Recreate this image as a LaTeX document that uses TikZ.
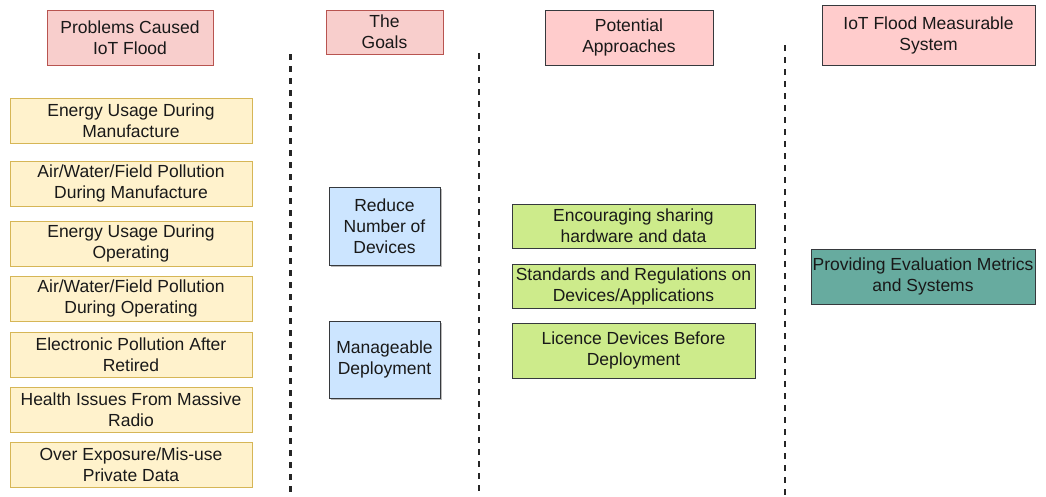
\documentclass[tikz,border=0pt]{standalone}
\usepackage{fontspec}
\setmainfont{Liberation Sans}
\usetikzlibrary{shadows}
\definecolor{pinkA}{HTML}{F8CECC}
\definecolor{pinkAd}{HTML}{B85450}
\definecolor{pinkB}{HTML}{FFCCCC}
\definecolor{darkB}{HTML}{36393D}
\definecolor{yel}{HTML}{FFF2CC}
\definecolor{yeld}{HTML}{D6B656}
\definecolor{blu}{HTML}{CCE5FF}
\definecolor{grn}{HTML}{CDEB8B}
\definecolor{teal2}{HTML}{67AB9F}
\tikzset{
  box/.style={rectangle, draw, line width=1pt, align=center, inner sep=0pt,
    font=\fontsize{17.5}{21}\selectfont, text=black!90},
  hdrA/.style={box, fill=pinkA, draw=pinkAd},
  hdrB/.style={box, fill=pinkB, draw=darkB},
  prob/.style={box, fill=yel, draw=yeld, minimum width=242pt, minimum height=45pt},
  goal/.style={box, fill=blu, draw=darkB, minimum width=111pt,
    drop shadow={shadow xshift=2pt, shadow yshift=-2pt, fill=black!45, opacity=0.6}},
  appr/.style={box, fill=grn, draw=darkB, minimum width=243pt},
  meas/.style={box, fill=teal2, draw=darkB},
  sep/.style={line width=2.6pt, dash pattern=on 5.5pt off 6.5pt, black!85},
}
\begin{document}
\begin{tikzpicture}[x=1pt, y=-1pt]
\useasboundingbox (0,0) rectangle (1046,496);
% headers
\node[hdrA, minimum width=166pt, minimum height=55pt] (h1) at (130,37.5) {Problems Caused\\IoT Flood};
\node[hdrA, minimum width=117pt, minimum height=44pt] (h2) at (384.5,32) {The\\Goals};
\node[hdrB, minimum width=168pt, minimum height=55pt] (h3) at (629,37.5) {Potential\\Approaches};
\node[hdrB, minimum width=213pt, minimum height=60pt] (h4) at (928.5,35) {IoT Flood Measurable\\System};
% separators
\coordinate (s1a) at (290.5,54); \coordinate (s1b) at (290.5,496);
\coordinate (s2a) at (479,53);   \coordinate (s2b) at (479,496);
\coordinate (s3a) at (785,45);   \coordinate (s3b) at (785,496);
\draw[sep] (s1a) -- (s1b);
\draw[sep] (s2a) -- (s2b);
\draw[sep] (s3a) -- (s3b);
% problems
\node[prob] (p1) at (131,120.5) {Energy Usage During\\Manufacture};
\node[prob] (p2) at (131,183.5) {Air/Water/Field Pollution\\During Manufacture};
\node[prob] (p3) at (131,243.5) {Energy Usage During\\Operating};
\node[prob] (p4) at (131,298.5) {Air/Water/Field Pollution\\During Operating};
\node[prob] (p5) at (131,354.5) {Electronic Pollution After\\Retired};
\node[prob] (p6) at (131,409.5) {Health Issues From Massive\\Radio};
\node[prob] (p7) at (131,464.5) {Over Exposure/Mis-use\\Private Data};
% goals
\node[goal, minimum height=78pt] (g1) at (384.5,226) {Reduce\\Number of\\Devices};
\node[goal, minimum height=77pt] (g2) at (384.5,359.5) {Manageable\\Deployment};
% approaches
\node[appr, minimum height=44pt] (a1) at (633.5,226) {Encouraging sharing\\hardware and data};
\node[appr, minimum height=44pt] (a2) at (633.5,286) {Standards and Regulations on\\Devices/Applications};
\node[appr, minimum height=55pt] (a3) at (633.5,350.5) {Licence Devices Before\\Deployment};
% measurable
\node[meas, minimum width=224pt, minimum height=55pt] (m1) at (923,276.5) {Providing Evaluation Metrics\\and Systems};
\end{tikzpicture}
\end{document}
